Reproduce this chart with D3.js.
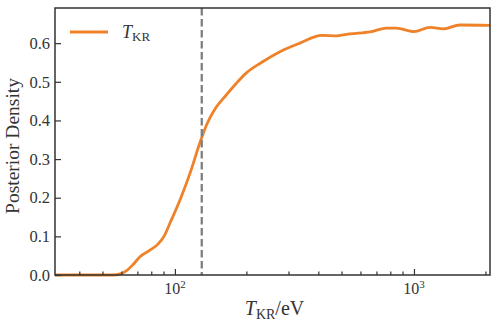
<!DOCTYPE html>
<html>
<head>
<meta charset="utf-8">
<script src="https://cdn.jsdelivr.net/npm/d3@7"></script>
<style>
  body { margin: 0; background: #fff; }
  text { font-family: "Liberation Serif", "DejaVu Serif", serif; fill: #333; }
</style>
</head>
<body>
<div id="chart"></div>
<script>
// posterior density vs T_KR (eV)
const tkr = [31.5, 45, 55, 59, 63, 67, 71.4, 78, 85, 90, 95.3, 105, 115.6, 127, 135.7, 148, 162, 180, 199, 230, 275, 333, 411, 475, 540, 655, 769, 843, 1000, 1167, 1327, 1556, 2080];
const density = [0, 0, 0, 0.003, 0.012, 0.028, 0.047, 0.063, 0.08, 0.1, 0.134, 0.194, 0.263, 0.341, 0.389, 0.432, 0.462, 0.495, 0.523, 0.55, 0.578, 0.6, 0.62, 0.619, 0.624, 0.629, 0.639, 0.639, 0.630, 0.641, 0.637, 0.647, 0.646];
const refLine = 129.5;
const yTicks = [0, 0.1, 0.2, 0.3, 0.4, 0.5, 0.6];
const xMajor = [100, 1000];
const xMinor = [40, 50, 60, 70, 80, 90, 200, 300, 400, 500, 600, 700, 800, 900, 2000];

const w = 499, h = 328;
const margin = { top: 8, right: 9, bottom: 53, left: 55 };
const width = w - margin.left - margin.right;
const height = h - margin.top - margin.bottom;
const orange = "#ef8229";
const ink = "#333";

const svg = d3.select("#chart").append("svg")
  .attr("width", w)
  .attr("height", h);

const g = svg.append("g")
  .attr("transform", `translate(${margin.left},${margin.top})`);

const xSc = d3.scaleLog().domain([31.5, 2080]).range([0, width]);
const ySc = d3.scaleLinear().domain([0, 0.691]).range([height, 0]);

const data = tkr.map((t, i) => ({ t, d: density[i] }));

// curve
const line = d3.line()
  .x(d => xSc(d.t))
  .y(d => ySc(d.d))
  .curve(d3.curveMonotoneX);

g.append("path")
  .datum(data)
  .attr("fill", "none")
  .attr("stroke", orange)
  .attr("stroke-width", 2.8)
  .attr("d", line);

// dashed reference
g.append("line")
  .attr("x1", xSc(refLine)).attr("x2", xSc(refLine))
  .attr("y1", 0).attr("y2", height)
  .attr("stroke", "#7f7f7f")
  .attr("stroke-width", 2.3)
  .attr("stroke-dasharray", "7.5,3.5");

// axes with inward ticks
const xAxis = g.append("g")
  .attr("transform", `translate(0,${height})`)
  .call(d3.axisBottom(xSc).tickValues(xMajor).tickSize(-6).tickFormat(""));
xAxis.append("g")
  .selectAll("line")
  .data(xMinor)
  .join("line")
  .attr("x1", d => xSc(d)).attr("x2", d => xSc(d))
  .attr("y1", 0).attr("y2", -3.5)
  .attr("stroke", ink);

const yAxis = g.append("g")
  .call(d3.axisLeft(ySc).tickValues(yTicks).tickSize(-6).tickFormat(""));

[xAxis, yAxis].forEach(a => {
  a.select(".domain").remove();
  a.selectAll("line").attr("stroke", ink).attr("stroke-width", 1.2);
});

// frame
g.append("rect")
  .attr("width", width).attr("height", height)
  .attr("fill", "none")
  .attr("stroke", ink)
  .attr("stroke-width", 1.5);

// tick labels
g.selectAll(".ylab")
  .data(yTicks)
  .join("text")
  .attr("class", "ylab")
  .attr("x", -5)
  .attr("y", d => ySc(d))
  .attr("dy", "0.35em")
  .attr("text-anchor", "end")
  .style("font-size", "16.5px")
  .text(d => d.toFixed(1));

const xl = g.selectAll(".xlab")
  .data(xMajor)
  .join("text")
  .attr("class", "xlab")
  .attr("x", d => xSc(d))
  .attr("y", height + 19)
  .attr("text-anchor", "middle")
  .style("font-size", "16px");
xl.append("tspan").text("10");
xl.append("tspan").attr("dy", -6).style("font-size", "11px").text(d => Math.round(Math.log10(d)));

// axis labels
const xt = g.append("text")
  .attr("x", width / 2 + 2)
  .attr("y", height + 40)
  .attr("text-anchor", "middle")
  .style("font-size", "20px");
xt.append("tspan").style("font-style", "italic").text("T");
xt.append("tspan").attr("dy", 4).style("font-size", "14px").text("KR");
xt.append("tspan").attr("dy", -4).text("/eV");

g.append("text")
  .attr("transform", `translate(${-36},${height / 2 + 4.5}) rotate(-90)`)
  .attr("text-anchor", "middle")
  .style("font-size", "19.5px")
  .text("Posterior Density");

// legend
const lg = g.append("g").attr("transform", "translate(15,24)");
lg.append("line")
  .attr("x1", 0).attr("x2", 38)
  .attr("y1", 0).attr("y2", 0)
  .attr("stroke", orange)
  .attr("stroke-width", 2.8);
const lt = lg.append("text")
  .attr("x", 52).attr("y", 6)
  .style("font-size", "18px");
lt.append("tspan").style("font-style", "italic").text("T");
lt.append("tspan").attr("dy", 3).style("font-size", "13px").text("KR");
</script>
</body>
</html>
